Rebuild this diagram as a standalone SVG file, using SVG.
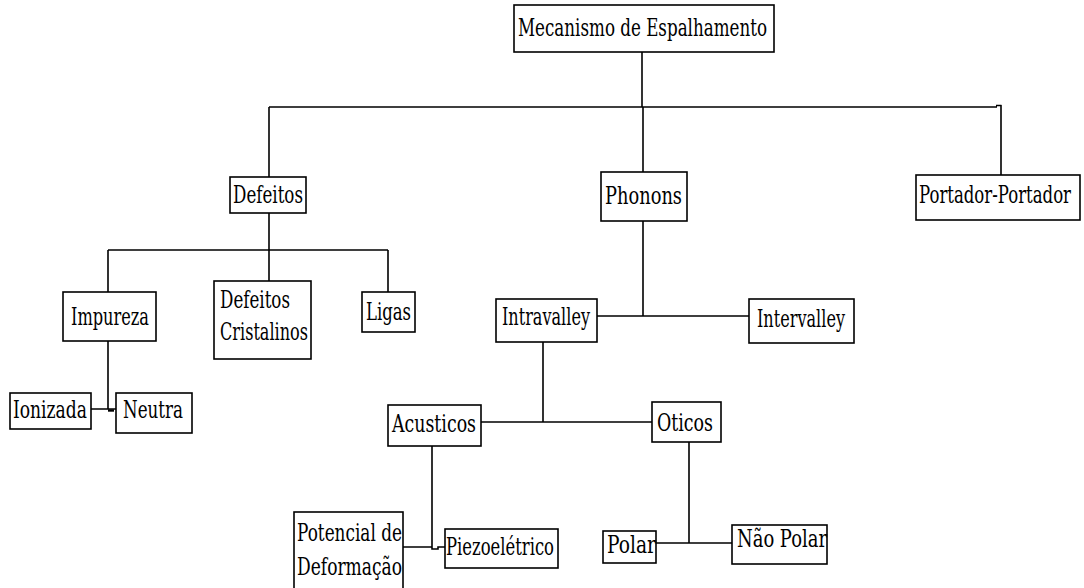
<svg xmlns="http://www.w3.org/2000/svg" width="1084" height="588" viewBox="0 0 1084 588">
<style>
.box{fill:#fff;stroke:#000;stroke-width:1.6}
.ln{fill:none;stroke:#000;stroke-width:1.6}
text{font-family:'DejaVu Serif','Liberation Serif',serif;font-size:19px;fill:#000}
</style>
<rect width="1084" height="588" fill="#fff"/>
<g id="connectors">
<path class="ln" d="M642,52 V107"/>
<path class="ln" d="M269,107 H997 M996,105.5 H1001.5 M1001,105 V175"/>
<path class="ln" d="M269,107 V177"/>
<path class="ln" d="M643,107 V172"/>
<path class="ln" d="M269,213 V281 M108,250 H388 M108,250 V292 M388,250 V292"/>
<path class="ln" d="M108,341 V409 M91,409 H116"/>
<path class="ln" d="M108,410.5 H114" style="stroke-width:2.4"/>
<path class="ln" d="M643,221 V316 M597,316 H749"/>
<path class="ln" d="M543,342 V422 M481,422 H652"/>
<path class="ln" d="M432,446 V549 H438 V547 H445 M403,547 H432"/>
<path class="ln" d="M689,442 V543 M656,543 H732"/>
</g>
<g id="mecanismo"><rect class="box" x="514" y="5" width="260" height="47"/><text transform="translate(518,36) scale(1,1.3)" textLength="249" lengthAdjust="spacingAndGlyphs">Mecanismo de Espalhamento</text></g>
<g id="defeitos"><rect class="box" x="230" y="177" width="76" height="36"/><text transform="translate(233,203) scale(1,1.3)" textLength="70" lengthAdjust="spacingAndGlyphs">Defeitos</text></g>
<g id="phonons"><rect class="box" x="601" y="172" width="86" height="49"/><text transform="translate(605,204) scale(1,1.3)" textLength="77" lengthAdjust="spacingAndGlyphs">Phonons</text></g>
<g id="portador"><rect class="box" x="916" y="175" width="164" height="45"/><text transform="translate(919,203) scale(1,1.55)" style="font-size:15.5px" textLength="152" lengthAdjust="spacingAndGlyphs">Portador-Portador</text></g>
<g id="impureza"><rect class="box" x="63" y="292" width="93" height="49"/><text transform="translate(71,325) scale(1,1.3)" textLength="78" lengthAdjust="spacingAndGlyphs">Impureza</text></g>
<g id="defeitos-cristalinos"><rect class="box" x="214" y="281" width="97" height="78"/><text transform="translate(220,308) scale(1,1.3)" textLength="70" lengthAdjust="spacingAndGlyphs">Defeitos</text><text transform="translate(220,340) scale(1,1.3)" textLength="88" lengthAdjust="spacingAndGlyphs">Cristalinos</text></g>
<g id="ligas"><rect class="box" x="362" y="292" width="53" height="40"/><text transform="translate(366,320) scale(1,1.3)" textLength="45" lengthAdjust="spacingAndGlyphs">Ligas</text></g>
<g id="intravalley"><rect class="box" x="496" y="299" width="101" height="43"/><text transform="translate(502,325) scale(1,1.3)" textLength="88" lengthAdjust="spacingAndGlyphs">Intravalley</text></g>
<g id="intervalley"><rect class="box" x="749" y="299" width="105" height="44"/><text transform="translate(757,327) scale(1,1.3)" textLength="88" lengthAdjust="spacingAndGlyphs">Intervalley</text></g>
<g id="ionizada"><rect class="box" x="10" y="393" width="81" height="36"/><text transform="translate(13,418) scale(1,1.3)" textLength="74" lengthAdjust="spacingAndGlyphs">Ionizada</text></g>
<g id="neutra"><rect class="box" x="116" y="393" width="76" height="40"/><text transform="translate(123,418) scale(1,1.3)" textLength="60" lengthAdjust="spacingAndGlyphs">Neutra</text></g>
<g id="acusticos"><rect class="box" x="388" y="405" width="93" height="41"/><text transform="translate(392,432) scale(1,1.3)" textLength="84" lengthAdjust="spacingAndGlyphs">Acusticos</text></g>
<g id="oticos"><rect class="box" x="652" y="402" width="69" height="40"/><text transform="translate(657,431) scale(1,1.3)" textLength="56" lengthAdjust="spacingAndGlyphs">Oticos</text></g>
<g id="potencial"><rect class="box" x="294" y="512" width="109" height="80"/><text transform="translate(297,541) scale(1,1.3)" textLength="105" lengthAdjust="spacingAndGlyphs">Potencial de</text><text transform="translate(297,575) scale(1,1.3)" textLength="105" lengthAdjust="spacingAndGlyphs">Deformação</text></g>
<g id="piezoeletrico"><rect class="box" x="445" y="529" width="113" height="39"/><text transform="translate(446,555) scale(1,1.3)" textLength="108" lengthAdjust="spacingAndGlyphs">Piezoelétrico</text></g>
<g id="polar"><rect class="box" x="603" y="531" width="53" height="32"/><text transform="translate(607,553) scale(1,1.3)" textLength="49" lengthAdjust="spacingAndGlyphs">Polar</text></g>
<g id="nao-polar"><rect class="box" x="732" y="525" width="95" height="39"/><text transform="translate(737,547) scale(1,1.3)" textLength="90" lengthAdjust="spacingAndGlyphs">Não Polar</text></g>
</svg>
